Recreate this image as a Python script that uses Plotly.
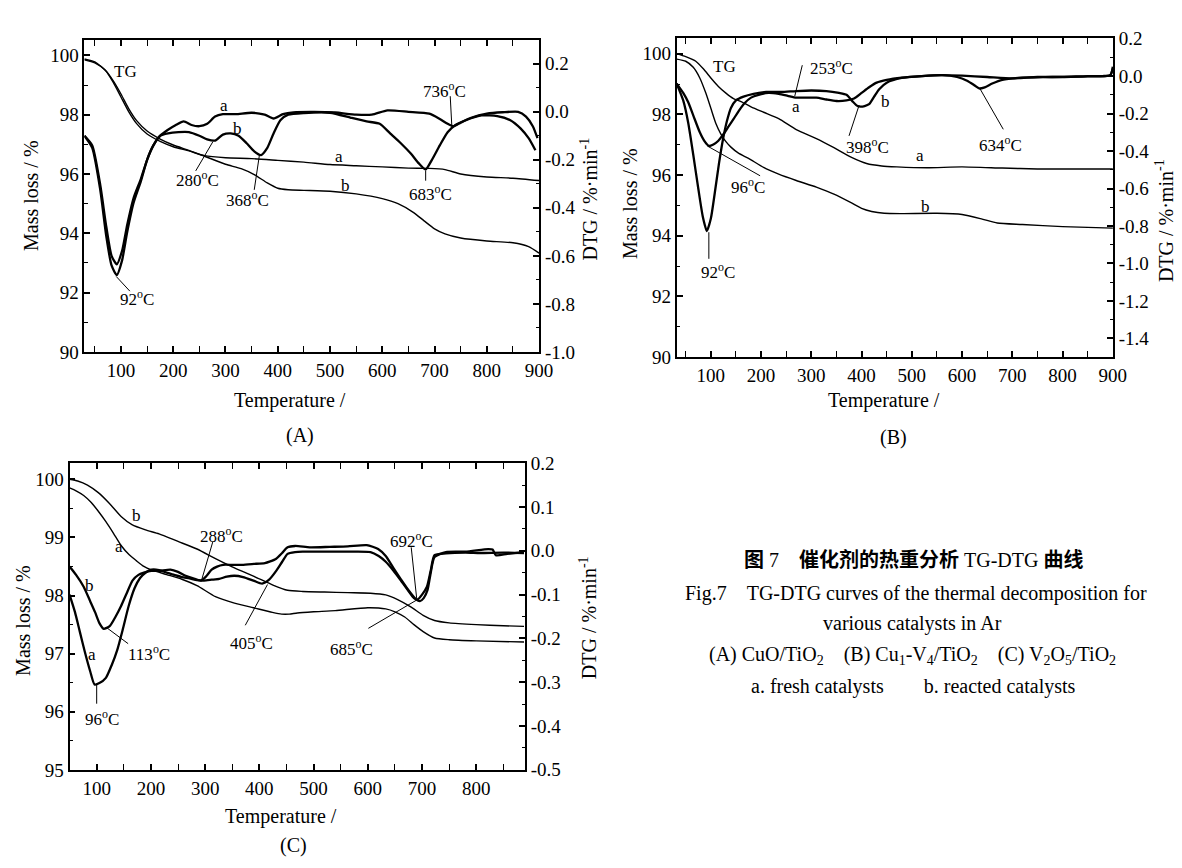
import plotly.graph_objects as go

W, H = 1182, 868
SERIF = "Liberation Serif, Times New Roman, serif"
CJK = "Liberation Serif, Noto Sans CJK SC, serif"

# ---------------- Panel A : CuO/TiO2 ----------------
A_tg_a_T = [30, 50, 70, 85, 100, 115, 130, 150, 175, 200, 230, 260, 300, 350, 400, 450, 500, 550, 600, 650, 690, 720, 750, 800, 850, 900]
A_tg_a_M = [99.88, 99.78, 99.5, 99.1, 98.6, 98.1, 97.7, 97.35, 97.1, 96.92, 96.78, 96.62, 96.55, 96.52, 96.46, 96.4, 96.32, 96.28, 96.24, 96.2, 96.19, 96.15, 96.0, 95.9, 95.86, 95.78]
A_tg_b_T = [30, 50, 70, 85, 100, 115, 130, 150, 175, 200, 230, 260, 300, 330, 355, 380, 400, 420, 450, 500, 550, 600, 630, 660, 680, 700, 720, 750, 800, 850, 880, 900]
A_tg_b_M = [99.85, 99.75, 99.5, 99.15, 98.7, 98.2, 97.8, 97.45, 97.18, 96.98, 96.8, 96.6, 96.33, 96.18, 95.98, 95.7, 95.52, 95.47, 95.45, 95.42, 95.33, 95.17, 95.0, 94.7, 94.42, 94.15, 93.98, 93.84, 93.74, 93.68, 93.55, 93.33]
A_dtg_a_T = [30, 45, 60, 72, 82, 92, 102, 112, 124, 138, 150, 162, 175, 190, 205, 220, 235, 250, 265, 280, 295, 320, 350, 375, 392, 410, 430, 470, 510, 550, 580, 610, 650, 690, 710, 725, 736, 750, 770, 800, 830, 860, 875, 888, 897]
A_dtg_a_R = [-0.1, -0.14, -0.3, -0.48, -0.6, -0.635, -0.58, -0.47, -0.36, -0.28, -0.2, -0.14, -0.1, -0.075, -0.055, -0.04, -0.055, -0.06, -0.05, -0.02, -0.01, -0.01, -0.004, -0.012, -0.028, -0.01, -0.002, 0.0, -0.003, -0.012, -0.012, 0.006, 0.0, -0.008, -0.03, -0.05, -0.06, -0.045, -0.025, -0.008, -0.002, 0.0, -0.02, -0.06, -0.11]
A_dtg_b_T = [30, 45, 60, 72, 82, 92, 102, 112, 124, 138, 150, 162, 175, 190, 210, 230, 250, 265, 280, 295, 310, 325, 340, 355, 368, 380, 392, 405, 420, 450, 500, 540, 570, 595, 615, 635, 655, 670, 683, 695, 710, 725, 740, 760, 790, 820, 845, 865, 880, 893]
A_dtg_b_R = [-0.1, -0.15, -0.32, -0.52, -0.64, -0.68, -0.62, -0.5, -0.38, -0.29, -0.2, -0.14, -0.1, -0.09, -0.085, -0.085, -0.1, -0.115, -0.12, -0.095, -0.09, -0.1, -0.13, -0.165, -0.18, -0.15, -0.09, -0.035, -0.012, -0.005, -0.004, -0.025, -0.04, -0.05, -0.09, -0.13, -0.175, -0.215, -0.24, -0.2, -0.14, -0.085, -0.055, -0.035, -0.015, -0.018, -0.035, -0.07, -0.11, -0.16]

# ---------------- Panel B : Cu1-V4/TiO2 ----------------
B_tg_a_T = [32, 50, 70, 85, 100, 115, 130, 145, 160, 180, 205, 235, 270, 310, 345, 380, 410, 440, 470, 530, 600, 680, 750, 830, 900]
B_tg_a_M = [100.0, 99.9, 99.75, 99.5, 99.2, 98.92, 98.7, 98.52, 98.42, 98.25, 98.07, 97.86, 97.5, 97.2, 96.9, 96.58, 96.38, 96.3, 96.27, 96.24, 96.27, 96.23, 96.2, 96.2, 96.2]
B_tg_b_T = [32, 50, 65, 78, 90, 100, 110, 120, 130, 140, 155, 175, 205, 235, 270, 310, 345, 380, 400, 420, 445, 480, 550, 600, 640, 670, 720, 800, 900]
B_tg_b_M = [99.82, 99.75, 99.55, 99.2, 98.7, 98.2, 97.7, 97.35, 97.1, 96.92, 96.72, 96.55, 96.25, 96.03, 95.82, 95.6, 95.37, 95.08, 94.9, 94.8, 94.74, 94.73, 94.74, 94.7, 94.55, 94.42, 94.37, 94.3, 94.25]
B_dtg_a_T = [32, 45, 55, 65, 78, 88, 96, 105, 115, 125, 135, 145, 157, 167, 180, 195, 215, 235, 253, 270, 290, 310, 330, 350, 370, 385, 400, 415, 430, 450, 480, 520, 560, 600, 650, 700, 750, 800, 850, 880, 895, 900]
B_dtg_a_R = [-0.04, -0.09, -0.14, -0.21, -0.3, -0.35, -0.373, -0.365, -0.345, -0.31, -0.27, -0.23, -0.18, -0.145, -0.115, -0.1, -0.09, -0.095, -0.105, -0.115, -0.115, -0.115, -0.125, -0.133, -0.13, -0.12, -0.09, -0.06, -0.035, -0.02, -0.008, 0.0, 0.005, 0.002, -0.005, -0.012, -0.005, -0.005, 0.0, 0.0, 0.005, 0.04]
B_dtg_b_T = [32, 45, 55, 65, 75, 84, 92, 100, 108, 116, 124, 132, 140, 150, 165, 185, 210, 240, 270, 300, 330, 355, 370, 382, 392, 398, 406, 415, 425, 435, 450, 480, 520, 560, 590, 610, 625, 634, 645, 660, 680, 720, 780, 850, 895, 900]
B_dtg_b_R = [-0.04, -0.13, -0.25, -0.42, -0.6, -0.75, -0.827, -0.76, -0.62, -0.47, -0.34, -0.24, -0.17, -0.13, -0.11, -0.095, -0.085, -0.085, -0.08, -0.077, -0.08, -0.09, -0.1, -0.135, -0.16, -0.163, -0.16, -0.15, -0.11, -0.07, -0.035, -0.01, 0.0, 0.005, -0.005, -0.025, -0.05, -0.066, -0.06, -0.04, -0.02, -0.008, -0.005, -0.002, 0.005, 0.05]

# ---------------- Panel C : V2O5/TiO2 ----------------
C_tg_b_T = [50, 65, 83, 103, 124, 145, 165, 190, 215, 250, 285, 320, 355, 390, 425, 452, 480, 520, 563, 605, 633, 655, 680, 702, 723, 750, 800, 850, 888]
C_tg_b_M = [100.0, 99.97, 99.9, 99.77, 99.58, 99.36, 99.22, 99.13, 99.06, 98.93, 98.8, 98.63, 98.47, 98.33, 98.18, 98.09, 98.07, 98.06, 98.05, 98.04, 98.01, 97.93, 97.8, 97.66, 97.57, 97.53, 97.5, 97.48, 97.47]
C_tg_a_T = [50, 62, 76, 90, 103, 117, 131, 145, 160, 173, 187, 201, 229, 257, 285, 319, 354, 389, 424, 441, 455, 470, 500, 540, 600, 633, 650, 668, 685, 702, 723, 750, 800, 888]
C_tg_a_M = [99.85, 99.8, 99.72, 99.6, 99.45, 99.27, 99.07, 98.86, 98.7, 98.6, 98.5, 98.44, 98.36, 98.28, 98.17, 97.98, 97.87, 97.79, 97.71, 97.68, 97.68, 97.7, 97.72, 97.74, 97.79, 97.77, 97.72, 97.63, 97.5, 97.38, 97.27, 97.24, 97.22, 97.2]
C_dtg_a_T = [50, 60, 69, 78, 88, 96, 105, 117, 128, 138, 148, 159, 170, 180, 190, 201, 215, 229, 243, 257, 271, 285, 298, 312, 326, 340, 354, 370, 389, 405, 418, 431, 442, 452, 466, 480, 520, 563, 605, 620, 633, 647, 661, 675, 685, 692, 700, 709, 716, 723, 744, 780, 807, 850, 888]
C_dtg_a_R = [-0.1, -0.14, -0.185, -0.23, -0.275, -0.305, -0.302, -0.29, -0.26, -0.226, -0.18, -0.126, -0.085, -0.062, -0.05, -0.043, -0.044, -0.05, -0.055, -0.06, -0.063, -0.067, -0.068, -0.066, -0.064, -0.059, -0.057, -0.06, -0.068, -0.075, -0.066, -0.046, -0.025, -0.007, -0.003, -0.002, -0.002, -0.002, -0.003, -0.012, -0.025, -0.045, -0.068, -0.092, -0.108, -0.111, -0.1, -0.082, -0.045, -0.01, -0.006, -0.004, -0.005, -0.004, -0.005]
C_dtg_b_T = [50, 62, 76, 88, 97, 105, 113, 124, 135, 145, 155, 166, 177, 187, 201, 215, 236, 250, 264, 278, 292, 302, 312, 322, 333, 350, 368, 390, 410, 420, 431, 442, 452, 466, 493, 530, 563, 598, 619, 633, 647, 661, 675, 689, 696, 703, 710, 716, 723, 744, 780, 822, 830, 836, 857, 888]
C_dtg_b_R = [-0.036, -0.055, -0.082, -0.115, -0.14, -0.165, -0.178, -0.172, -0.15, -0.126, -0.098, -0.068, -0.055, -0.05, -0.046, -0.046, -0.043, -0.048, -0.057, -0.063, -0.068, -0.058, -0.043, -0.036, -0.032, -0.032, -0.032, -0.03, -0.028, -0.024, -0.018, -0.005, 0.008, 0.011, 0.008, 0.009, 0.01, 0.013, 0.004, -0.012, -0.039, -0.065, -0.09, -0.111, -0.115, -0.108, -0.09, -0.05, -0.014, -0.003, -0.002, 0.004, 0.003, -0.01, -0.007, -0.003]

# tick values
A_left_ticks = [90, 92, 94, 96, 98, 100]
A_right_ticks = [-1.0, -0.8, -0.6, -0.4, -0.2, 0.0, 0.2]
B_left_ticks = [90, 92, 94, 96, 98, 100]
B_right_ticks = [-1.4, -1.2, -1.0, -0.8, -0.6, -0.4, -0.2, 0.0, 0.2]
C_left_ticks = [95, 96, 97, 98, 99, 100]
C_right_ticks = [-0.5, -0.4, -0.3, -0.2, -0.1, 0.0, 0.1, 0.2]
AB_x_ticks = [100, 200, 300, 400, 500, 600, 700, 800, 900]
C_x_ticks = [100, 200, 300, 400, 500, 600, 700, 800]

fig = go.Figure()
TGW, DTGW = 1.4, 2.3

def add(T, V, xa, ya, w):
    fig.add_trace(go.Scatter(x=T, y=V, xaxis=xa, yaxis=ya, mode="lines",
                             line=dict(color="black", width=w, shape="spline", smoothing=0.6),
                             hoverinfo="skip", showlegend=False))

add(A_tg_a_T, A_tg_a_M, "x", "y", TGW)
add(A_tg_b_T, A_tg_b_M, "x", "y", TGW)
add(A_dtg_a_T, A_dtg_a_R, "x", "y2", DTGW)
add(A_dtg_b_T, A_dtg_b_R, "x", "y2", DTGW)
add(B_tg_a_T, B_tg_a_M, "x2", "y3", TGW)
add(B_tg_b_T, B_tg_b_M, "x2", "y3", TGW)
add(B_dtg_a_T, B_dtg_a_R, "x2", "y4", DTGW)
add(B_dtg_b_T, B_dtg_b_R, "x2", "y4", DTGW)
add(C_tg_a_T, C_tg_a_M, "x3", "y5", TGW)
add(C_tg_b_T, C_tg_b_M, "x3", "y5", TGW)
add(C_dtg_a_T, C_dtg_a_R, "x3", "y6", DTGW)
add(C_dtg_b_T, C_dtg_b_R, "x3", "y6", DTGW)

def xd(px0, px1):
    return [px0 / W, px1 / W]

def yd(py_bottom, py_top):
    return [1 - py_bottom / H, 1 - py_top / H]

TICKFONT = dict(family=SERIF, size=19, color="black")
common = dict(showline=True, linecolor="black", linewidth=1.8, ticks="inside",
              ticklen=6, tickwidth=1.5, tickcolor="black", showgrid=False,
              zeroline=False, tickfont=TICKFONT)

def minor(dt):
    return dict(ticks="inside", ticklen=3.5, tickwidth=1.2, tickcolor="black",
                tickmode="linear", tick0=0, dtick=dt, showgrid=False)

def xaxis(dom, rng, vals, anchor, minor_dt):
    return dict(domain=dom, range=rng, anchor=anchor, tickmode="array", tickvals=vals,
                ticktext=[str(v) for v in vals], mirror="allticks", minor=minor(minor_dt), **common)

def yleft(dom, rng, vals, anchor, minor_dt):
    return dict(domain=dom, range=rng, anchor=anchor, side="left", tickmode="array",
                tickvals=vals, ticktext=[str(v) for v in vals], minor=minor(minor_dt), **common)

def yright(over, rng, vals, anchor, minor_dt):
    return dict(overlaying=over, range=rng, anchor=anchor, side="right", tickmode="array",
                tickvals=vals, ticktext=[f"{v:.1f}" for v in vals], minor=minor(minor_dt), **common)

A_xd, A_yd = xd(77.3, 537.7), yd(342.3, 22.3)
B_xd, B_yd = xd(676.7, 1118.3), yd(347.7, 21.0)
C_xd, C_yd = xd(62.3, 523.3), yd(770.7, 456.0)

fig.update_layout(
    xaxis=xaxis(A_xd, [30, 900.5], AB_x_ticks, "y", 50),
    yaxis=yleft(A_yd, [89.995, 100.53], A_left_ticks, "x", 1),
    yaxis2=yright("y", [-1.0005, 0.3], A_right_ticks, "x", 0.1),
    xaxis2=xaxis(B_xd, [32, 900.5], AB_x_ticks, "y3", 50),
    yaxis3=yleft(B_yd, [89.995, 100.5], B_left_ticks, "x2", 1),
    yaxis4=yright("y3", [-1.5005, 0.2005], B_right_ticks, "x2", 0.1),
    xaxis3=xaxis(C_xd, [50, 890], C_x_ticks, "y5", 50),
    yaxis5=yleft(C_yd, [94.998, 100.28], C_left_ticks, "x3", 0.5),
    yaxis6=yright("y5", [-0.5005, 0.2005], C_right_ticks, "x3", 0.05),
)

ann = []
shapes = []
AFS = 17

def label(text, x, y, xr, yr, size=AFS):
    ann.append(dict(text=text, x=x, y=y, xref=xr, yref=yr, showarrow=False,
                    font=dict(family=SERIF, size=size, color="black"),
                    xanchor="center", yanchor="middle"))

def lead(x0, y0, x1, y1, xr, yr):
    shapes.append(dict(type="line", x0=x0, y0=y0, x1=x1, y1=y1, xref=xr, yref=yr,
                       line=dict(color="black", width=1)))

deg = "<sup>o</sup>C"
# Panel A
label("TG", 109, 99.46, "x", "y")
label("a", 297, 0.027, "x", "y2")
label("b", 323, -0.07, "x", "y2")
label("a", 518, 96.6, "x", "y")
label("b", 529, 95.63, "x", "y")
label("280" + deg, 247, -0.28, "x", "y2"); lead(243, -0.246, 276, -0.124, "x", "y2")
label("368" + deg, 342, -0.364, "x", "y2"); lead(355, -0.325, 365, -0.179, "x", "y2")
label("683" + deg, 692, -0.337, "x", "y2"); lead(683, -0.287, 683, -0.244, "x", "y2")
label("736" + deg, 720, 0.092, "x", "y2"); lead(730, 0.065, 733, -0.057, "x", "y2")
label("92" + deg, 131, -0.774, "x", "y2"); lead(117, -0.747, 91, -0.686, "x", "y2")
# Panel B
label("TG", 128, 99.59, "x2", "y3")
label("253" + deg, 340, 0.046, "x2", "y4"); lead(282, 0.058, 267, -0.107, "x2", "y4")
label("a", 269, -0.163, "x2", "y4")
label("b", 447, -0.138, "x2", "y4")
label("398" + deg, 412, -0.373, "x2", "y4"); lead(375, -0.319, 395, -0.156, "x2", "y4")
label("634" + deg, 677, -0.364, "x2", "y4"); lead(682, -0.284, 636, -0.069, "x2", "y4")
label("a", 516, 96.66, "x2", "y3")
label("b", 527, 94.98, "x2", "y3")
label("96" + deg, 174, -0.584, "x2", "y4"); lead(198, -0.532, 93, -0.373, "x2", "y4")
label("92" + deg, 115, -1.039, "x2", "y4"); lead(96, -0.975, 96, -0.833, "x2", "y4")
# Panel C
label("b", 173, 99.37, "x3", "y5")
label("a", 142, 98.85, "x3", "y5")
label("b", 86, -0.079, "x3", "y6")
label("a", 91, -0.237, "x3", "y6")
label("288" + deg, 330, 0.036, "x3", "y6"); lead(314, 0.020, 293, -0.069, "x3", "y6")
label("405" + deg, 385, -0.208, "x3", "y6"); lead(374, -0.170, 415, -0.077, "x3", "y6")
label("113" + deg, 197, -0.234, "x3", "y6"); lead(158, -0.212, 119, -0.176, "x3", "y6")
label("96" + deg, 110, -0.381, "x3", "y6"); lead(100, -0.349, 100, -0.304, "x3", "y6")
label("692" + deg, 681, 0.024, "x3", "y6"); lead(680, 0.008, 690, -0.108, "x3", "y6")
label("685" + deg, 570, -0.223, "x3", "y6"); lead(601, -0.177, 692, -0.111, "x3", "y6")

def ptext(text, px, py, size=20, angle=0, family=SERIF):
    ann.append(dict(text=text, x=px / W, y=1 - py / H, xref="paper", yref="paper",
                    showarrow=False, textangle=angle, xanchor="center", yanchor="middle",
                    font=dict(family=family, size=size, color="black")))

ML = "Mass loss / %"
DT = "DTG / %·min<sup>-1</sup>"
ptext(ML, 22.7, 182, angle=-90)
ptext(DT, 587, 186, angle=-90)
ptext(ML, 630, 190, angle=-90)
ptext(DT, 1170, 208, angle=-90)
ptext(ML, 15, 617, angle=-90)
ptext(DT, 587, 615, angle=-90)
ptext("Temperature /", 285, 392)
ptext("Temperature /", 886, 392)
ptext("Temperature /", 276, 818)
ptext("(A)", 296, 428)
ptext("(B)", 896, 430)
ptext("(C)", 289, 848)

sp = "\u2003"
ptext("<b>图</b> 7" + sp + "<b>催化剂的热重分析</b> TG-DTG <b>曲线</b>", 916, 555, size=20, family=CJK)
ptext("Fig.7" + sp + "TG-DTG curves of the thermal decomposition for", 919, 590)
ptext("various catalysts in Ar", 915, 620)
ptext("(A) CuO/TiO<sub>2</sub>" + sp + "(B) Cu<sub>1</sub>-V<sub>4</sub>/TiO<sub>2</sub>" + sp
      + "(C) V<sub>2</sub>O<sub>5</sub>/TiO<sub>2</sub>", 915, 653)
ptext("a. fresh catalysts" + sp + sp + "b. reacted catalysts", 916, 685)

fig.update_layout(width=W, height=H, margin=dict(l=0, r=0, t=0, b=0),
                  paper_bgcolor="white", plot_bgcolor="white", showlegend=False,
                  annotations=ann, shapes=shapes,
                  font=dict(family=SERIF, color="black"))

fig.write_html("out.html")
